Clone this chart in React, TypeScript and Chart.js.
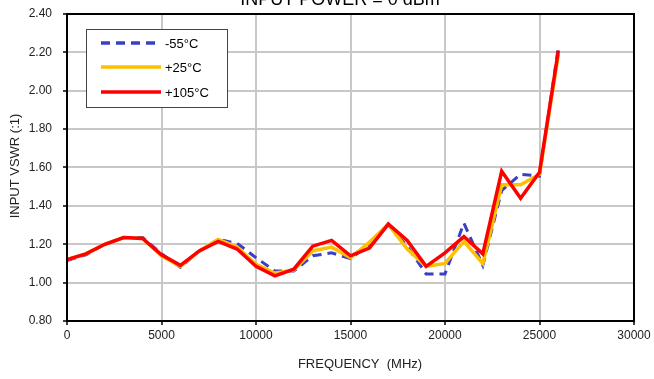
import React, { useEffect, useRef } from "react";
import { Chart, registerables } from "chart.js";

Chart.register(...registerables);

const frequencies = [0, 1000, 2000, 3000, 4000, 5000, 6000, 7000, 8000, 9000, 10000, 11000, 12000, 13000, 14000, 15000, 16000, 17000, 18000, 19000, 20000, 21000, 22000, 23000, 24000, 25000, 26000];
const vswrMinus55 = [1.115, 1.145, 1.2, 1.235, 1.235, 1.15, 1.08, 1.165, 1.225, 1.205, 1.13, 1.06, 1.06, 1.14, 1.155, 1.125, 1.2, 1.3, 1.19, 1.045, 1.045, 1.31, 1.09, 1.48, 1.565, 1.555, 2.23];
const vswrPlus25 = [1.12, 1.15, 1.2, 1.235, 1.23, 1.14, 1.085, 1.165, 1.225, 1.185, 1.095, 1.05, 1.065, 1.165, 1.185, 1.13, 1.21, 1.305, 1.175, 1.085, 1.1, 1.215, 1.1, 1.51, 1.51, 1.565, 2.19];
const vswrPlus105 = [1.12, 1.15, 1.2, 1.235, 1.23, 1.145, 1.09, 1.165, 1.215, 1.175, 1.085, 1.035, 1.07, 1.19, 1.22, 1.14, 1.18, 1.305, 1.22, 1.085, 1.155, 1.24, 1.15, 1.58, 1.44, 1.575, 2.21];
const seriesLabels = ["-55°C", "+25°C", "+105°C"];
const titleText = "INPUT POWER = 0 dBm";
const xTitle = "FREQUENCY  (MHz)";
const yTitle = "INPUT VSWR (:1)";

const FONT = "'Liberation Sans', Arial, sans-serif";

export default function App() {
  const ref = useRef<HTMLCanvasElement | null>(null);
  useEffect(() => {
    if (!ref.current) return;
    const toPts = (ys: number[]) => frequencies.map((f, i) => ({ x: f, y: ys[i] }));
    const colors = ["#3b3fc4", "#ffc000", "#ff0000"];
    const framePlugin = {
      id: "frameAndLegend",
      afterDraw(chart: any) {
        const { ctx, chartArea } = chart;
        ctx.save();
        ctx.strokeStyle = "#000";
        ctx.lineWidth = 2;
        ctx.strokeRect(chartArea.left, chartArea.top, chartArea.right - chartArea.left, chartArea.bottom - chartArea.top);
        // title (partially clipped at top)
        ctx.fillStyle = "#000";
        ctx.font = `18px ${FONT}`;
        ctx.textAlign = "center";
        ctx.textBaseline = "alphabetic";
        ctx.fillText(titleText, 340, 5);
        // axis titles
        ctx.fillStyle = "#222";
        ctx.font = `13px ${FONT}`;
        ctx.textBaseline = "middle";
        ctx.fillText(xTitle, 360, 364);
        ctx.save();
        ctx.translate(15, 166);
        ctx.rotate(-Math.PI / 2);
        ctx.fillText(yTitle, 0, 0);
        ctx.restore();
        // legend
        const bx = 86, by = 29, bw = 141, bh = 78;
        ctx.fillStyle = "#fff";
        ctx.fillRect(bx, by, bw, bh);
        ctx.strokeStyle = "#444";
        ctx.lineWidth = 1;
        ctx.strokeRect(bx + 0.5, by + 0.5, bw, bh);
        const rows = [43, 67, 92];
        chart.data.datasets.forEach((ds: any, i: number) => {
          const y = rows[i];
          ctx.strokeStyle = ds.borderColor;
          ctx.lineWidth = 3.5;
          ctx.setLineDash(ds.borderDash || []);
          ctx.beginPath();
          ctx.moveTo(101, y);
          ctx.lineTo(161, y);
          ctx.stroke();
          ctx.setLineDash([]);
          ctx.fillStyle = "#000";
          ctx.font = `13px ${FONT}`;
          ctx.textAlign = "left";
          ctx.textBaseline = "middle";
          ctx.fillText(ds.label, 165, y + 1);
        });
        ctx.restore();
      },
    };
    const chart = new Chart(ref.current, {
      type: "line",
      data: {
        datasets: [
          { label: seriesLabels[0], data: toPts(vswrMinus55), borderColor: colors[0], borderWidth: 3, borderDash: [9, 6], pointRadius: 0, tension: 0, order: 3 },
          { label: seriesLabels[1], data: toPts(vswrPlus25), borderColor: colors[1], borderWidth: 3.5, pointRadius: 0, tension: 0, order: 2 },
          { label: seriesLabels[2], data: toPts(vswrPlus105), borderColor: colors[2], borderWidth: 3.5, pointRadius: 0, tension: 0, order: 1 },
        ],
      },
      options: {
        animation: false,
        responsive: false,
        maintainAspectRatio: false,
        layout: { padding: { left: 0, top: 14, right: 20, bottom: 0 } },
        plugins: { legend: { display: false }, tooltip: { enabled: false }, title: { display: false } },
        scales: {
          x: {
            type: "linear",
            min: 0,
            max: 30000,
            afterFit: (s: any) => { s.height = 58; s.paddingLeft = 0; s.paddingRight = 0; },
            ticks: { stepSize: 5000, color: "#222", font: { family: FONT, size: 12 }, padding: 3, maxRotation: 0, callback: (v: any) => String(v) },
            grid: { color: "#c8c8c8", lineWidth: 2, tickColor: "#000", tickLength: 4, tickWidth: 1.5 },
            border: { color: "#000", width: 2 },
            title: { display: false },
          },
          y: {
            min: 0.8,
            max: 2.4,
            afterFit: (s: any) => { s.width = 67; s.paddingTop = 0; s.paddingBottom = 0; },
            ticks: { stepSize: 0.2, color: "#222", font: { family: FONT, size: 12 }, padding: 11, callback: (v: any) => Number(v).toFixed(2) },
            grid: { color: "#c8c8c8", lineWidth: 2, tickColor: "#000", tickLength: 4, tickWidth: 1.5 },
            border: { color: "#000", width: 2 },
            title: { display: false },
          },
        },
      },
      plugins: [framePlugin],
    });
    return () => chart.destroy();
  }, []);
  return (
    <div style={{ position: "fixed", left: 0, top: 0, width: 654, height: 379, overflow: "hidden", background: "#fff" }}>
      <canvas ref={ref} width={654} height={379} style={{ width: 654, height: 379, display: "block" }} />
    </div>
  );
}
